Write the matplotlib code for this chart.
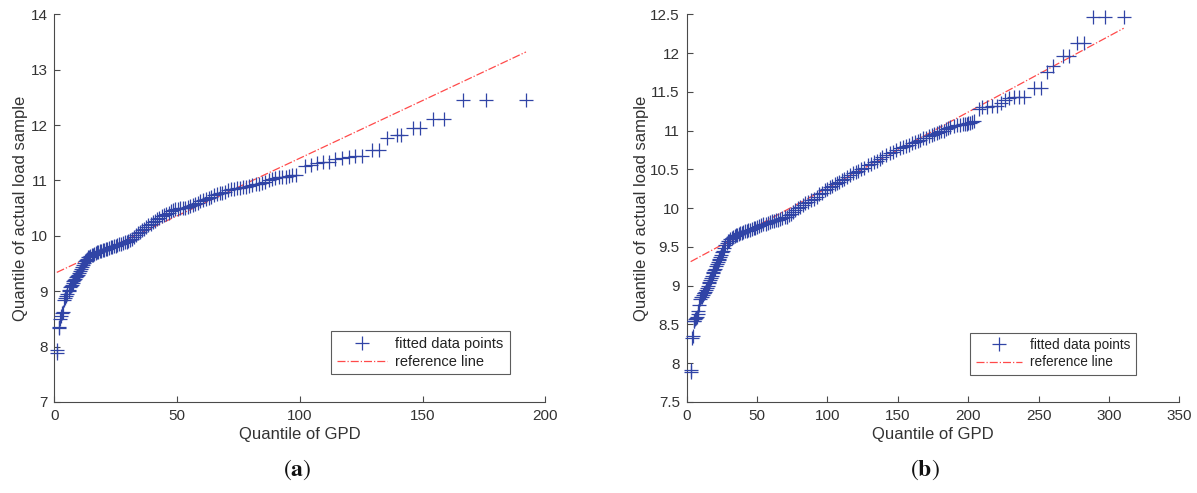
import matplotlib
matplotlib.use("Agg")
import matplotlib.pyplot as plt

# ---------------- data ----------------
# panel (a)
a_gpd_q = [1.0, 1.2, 1.7, 2.0, 2.3, 2.6, 3.0, 3.4, 3.8, 4.3, 4.8, 5.3, 5.8, 6.1, 6.4, 6.8,
           7.1, 7.5, 7.8, 8.2, 8.5, 8.9, 9.3, 9.7, 10.0, 10.4, 10.8, 11.2, 11.6, 12.0, 12.4,
           12.8, 13.2, 13.7, 14.2, 14.7, 15.2, 15.7, 16.2, 16.8, 17.3, 17.9, 18.5, 19.1,
           19.7, 20.3, 21.0, 21.6, 22.3, 23.0, 23.6, 24.3, 25.0, 25.7, 26.5, 27.2, 28.0,
           28.7, 29.5, 30.2, 31.0, 31.8, 32.6, 33.4, 34.2, 35.0, 35.8, 36.6, 37.5, 38.3,
           39.2, 40.1, 41.0, 41.9, 42.8, 43.7, 44.6, 45.5, 46.5, 47.4, 48.4, 49.3, 50.3,
           51.3, 52.3, 53.3, 54.3, 55.3, 56.4, 57.4, 58.5, 59.5, 60.6, 61.7, 62.8, 63.9,
           65.0, 66.1, 67.3, 68.4, 69.6, 70.8, 72.0, 73.2, 74.4, 75.6, 76.9, 78.1, 79.4,
           80.7, 82.0, 83.3, 84.6, 86.0, 87.3, 88.6, 90.0, 91.4, 92.8, 94.2, 95.6, 97.0,
           98.5, 102.0, 104.5, 107.0, 109.5, 112.0, 114.5, 117.0, 120.0, 122.5, 125.2,
           129.3, 132.4, 135.6, 139.5, 141.2, 146.2, 149.0, 154.1, 158.7, 166.3, 175.7, 192.1]
a_sample_q = [7.93, 7.88, 8.33, 8.36, 8.50, 8.55, 8.60, 8.63, 8.85, 8.88, 8.92, 8.95, 9.00,
              9.03, 9.07, 9.10, 9.12, 9.15, 9.18, 9.20, 9.22, 9.25, 9.27, 9.30, 9.32, 9.36,
              9.40, 9.44, 9.47, 9.51, 9.54, 9.57, 9.59, 9.61, 9.62, 9.64, 9.65, 9.66, 9.67,
              9.69, 9.70, 9.71, 9.72, 9.73, 9.74, 9.75, 9.76, 9.77, 9.78, 9.79, 9.80, 9.81,
              9.82, 9.83, 9.85, 9.86, 9.87, 9.88, 9.89, 9.90, 9.92, 9.95, 9.98, 10.02, 10.05,
              10.07, 10.10, 10.13, 10.16, 10.19, 10.22, 10.25, 10.27, 10.30, 10.32, 10.35,
              10.37, 10.40, 10.42, 10.44, 10.46, 10.48, 10.49, 10.50, 10.50, 10.51, 10.52,
              10.54, 10.56, 10.58, 10.60, 10.62, 10.65, 10.67, 10.69, 10.71, 10.73, 10.75,
              10.77, 10.78, 10.80, 10.82, 10.84, 10.85, 10.86, 10.87, 10.88, 10.89, 10.90,
              10.91, 10.93, 10.94, 10.96, 10.98, 11.00, 11.02, 11.04, 11.06, 11.07, 11.07,
              11.08, 11.09, 11.10, 11.26, 11.28, 11.31, 11.33, 11.34, 11.38, 11.41, 11.43,
              11.44, 11.44, 11.55, 11.55, 11.76, 11.82, 11.82, 11.94, 11.94, 12.11, 12.11,
              12.46, 12.46, 12.46]
a_ref_x = [1.0, 192.1]
a_ref_y = [9.34, 13.32]

# panel (b)
b_gpd_q = [2.8, 3.2, 4.0, 4.4, 5.0, 5.5, 6.0, 6.6, 7.2, 7.8, 8.3, 8.9, 9.5, 10.1, 10.7,
           11.3, 12.0, 12.5, 13.0, 13.8, 14.5, 15.0, 15.6, 16.1, 16.6, 17.3, 18.0, 18.5,
           19.0, 19.5, 20.1, 20.8, 21.5, 22.0, 22.6, 23.2, 23.7, 24.3, 25.0, 25.7, 26.5,
           27.4, 28.4, 29.2, 30.0, 31.0, 32.0, 33.0, 34.0, 35.0, 36.0, 37.0, 38.0, 39.0,
           40.0, 41.2, 42.5, 43.7, 45.0, 46.2, 47.5, 48.7, 50.0, 51.5, 53.0, 54.5, 56.0,
           57.5, 59.0, 60.5, 62.0, 63.5, 65.0, 66.5, 68.0, 69.5, 71.0, 72.5, 74.0, 75.5,
           77.0, 78.8, 80.6, 82.3, 84.0, 86.0, 88.0, 90.2, 92.5, 94.2, 96.0, 98.0, 100.0,
           101.7, 103.5, 105.1, 106.7, 108.3, 110.0, 112.0, 114.0, 116.2, 118.5, 120.2,
           122.0, 124.0, 126.0, 128.5, 131.0, 133.0, 135.0, 137.0, 139.0, 141.8, 144.6,
           146.8, 149.0, 151.5, 154.0, 156.0, 158.0, 160.0, 162.0, 164.0, 165.9, 168.0,
           170.0, 172.0, 174.0, 176.0, 177.8, 179.4, 181.0, 182.5, 184.0, 185.7, 187.3,
           189.7, 192.0, 194.0, 196.0, 197.5, 199.0, 200.2, 201.5, 202.7, 203.8, 207.4,
           210.0, 213.4, 217.0, 220.5, 223.0, 226.4, 229.0, 232.3, 236.0, 239.4, 246.5,
           251.8, 256.0, 260.3, 267.4, 271.4, 277.4, 282.1, 288.7, 297.5, 310.5]
b_sample_q = [7.89, 7.91, 8.33, 8.35, 8.54, 8.55, 8.57, 8.58, 8.60, 8.64, 8.67, 8.75, 8.83,
              8.85, 8.86, 8.88, 8.90, 8.91, 8.92, 8.95, 8.97, 9.00, 9.03, 9.05, 9.07, 9.10,
              9.13, 9.16, 9.18, 9.20, 9.22, 9.25, 9.28, 9.31, 9.33, 9.35, 9.37, 9.40, 9.43,
              9.45, 9.48, 9.52, 9.55, 9.57, 9.58, 9.60, 9.61, 9.63, 9.64, 9.65, 9.66, 9.67,
              9.68, 9.685, 9.69, 9.70, 9.71, 9.715, 9.72, 9.73, 9.74, 9.75, 9.76, 9.77, 9.78,
              9.79, 9.80, 9.81, 9.82, 9.83, 9.84, 9.845, 9.85, 9.86, 9.87, 9.88, 9.89, 9.91,
              9.93, 9.95, 9.97, 10.00, 10.02, 10.04, 10.06, 10.08, 10.10, 10.12, 10.15, 10.18,
              10.20, 10.23, 10.25, 10.27, 10.29, 10.31, 10.32, 10.34, 10.36, 10.38, 10.40,
              10.43, 10.45, 10.47, 10.48, 10.50, 10.52, 10.55, 10.57, 10.59, 10.61, 10.64,
              10.66, 10.69, 10.71, 10.73, 10.75, 10.77, 10.79, 10.80, 10.82, 10.84, 10.85,
              10.87, 10.88, 10.90, 10.91, 10.93, 10.94, 10.96, 10.97, 10.98, 10.99, 11.00,
              11.02, 11.04, 11.05, 11.06, 11.07, 11.075, 11.08, 11.085, 11.09, 11.095, 11.10,
              11.11, 11.12, 11.28, 11.30, 11.31, 11.32, 11.32, 11.36, 11.40, 11.42, 11.43,
              11.43, 11.43, 11.55, 11.55, 11.76, 11.83, 11.96, 11.96, 12.13, 12.13, 12.46,
              12.46, 12.46]
b_ref_x = [2.8, 310.5]
b_ref_y = [9.31, 12.32]

a_xticks = [0, 50, 100, 150, 200]
a_yticks = [7, 8, 9, 10, 11, 12, 13, 14]
b_xticks = [0, 50, 100, 150, 200, 250, 300, 350]
b_yticks = [7.5, 8, 8.5, 9, 9.5, 10, 10.5, 11, 11.5, 12, 12.5]
b_yticklabels = ["7.5", "8", "8.5", "9", "9.5", "10", "10.5", "11", "11.5", "12", "12.5"]

legend_labels = ["fitted data points", "reference line"]
xlabel = "Quantile of GPD"
ylabel = "Quantile of actual load sample"

# ---------------- styling ----------------
plt.rcParams['font.family'] = ['Liberation Sans', 'DejaVu Sans']
plt.rcParams['mathtext.fontset'] = 'stix'
AX_COL = '#4a4a4a'
TXT_COL = '#333333'
PT_COL = '#3044a6'
REF_COL = '#ff4a4a'

fig = plt.figure(figsize=(11.97, 4.93), dpi=100)
axa = fig.add_axes([0.0454, 0.1846, 0.4102, 0.7864])
axb = fig.add_axes([0.5737, 0.1846, 0.4115, 0.7864])


def style(ax, xlim, ylim, xticks, yticks, yticklabels=None, ylabelpad=4):
    ax.set_xlim(*xlim)
    ax.set_ylim(*ylim)
    ax.set_xticks(xticks)
    ax.set_yticks(yticks)
    if yticklabels is not None:
        ax.set_yticklabels(yticklabels)
    for s in ['top', 'right']:
        ax.spines[s].set_visible(False)
    for s in ['left', 'bottom']:
        ax.spines[s].set_color(AX_COL)
        ax.spines[s].set_linewidth(0.8)
    ax.tick_params(direction='in', length=4, width=0.8, color=AX_COL,
                   labelcolor=TXT_COL, labelsize=11, pad=5)
    ax.set_xlabel(xlabel, fontsize=12, color=TXT_COL, labelpad=3)
    ax.set_ylabel(ylabel, fontsize=12, color=TXT_COL, labelpad=ylabelpad)


# panel (a)
axa.plot(a_gpd_q, a_sample_q, '+', color=PT_COL, markersize=9.5, mew=0.9,
         label=legend_labels[0], clip_on=False, zorder=3)
axa.plot(a_ref_x, a_ref_y, '-.', color=REF_COL, lw=0.9, label=legend_labels[1])
style(axa, (0, 200), (7, 14), a_xticks, a_yticks, ylabelpad=2)
lga = axa.legend(loc='lower right', bbox_to_anchor=(0.927, 0.071), fontsize=10.5,
                 frameon=True, fancybox=False, handlelength=3.4, borderpad=0.4,
                 labelspacing=0.25, handletextpad=0.6, borderaxespad=0)
lga.get_frame().set_edgecolor('#333333')
lga.get_frame().set_linewidth(0.8)
for t in lga.get_texts():
    t.set_color('#222222')

# panel (b)
axb.plot(b_gpd_q, b_sample_q, '+', color=PT_COL, markersize=9.5, mew=0.9,
         label=legend_labels[0], clip_on=False, zorder=3)
axb.plot(b_ref_x, b_ref_y, '-.', color=REF_COL, lw=0.9, label=legend_labels[1])
style(axb, (0, 350), (7.5, 12.5), b_xticks, b_yticks, b_yticklabels, ylabelpad=1)
lgb = axb.legend(loc='lower right', bbox_to_anchor=(0.912, 0.07), fontsize=9.8,
                 frameon=True, fancybox=False, handlelength=3.4, borderpad=0.4,
                 labelspacing=0.25, handletextpad=0.6, borderaxespad=0)
lgb.get_frame().set_edgecolor('#333333')
lgb.get_frame().set_linewidth(0.8)
for t in lgb.get_texts():
    t.set_color('#222222')

# captions
fig.text(0.248, 0.047, r'$(\mathbf{a})$', ha='center', va='center', fontsize=17, color='#111111')
fig.text(0.773, 0.047, r'$(\mathbf{b})$', ha='center', va='center', fontsize=17, color='#111111')

fig.savefig('out.png', dpi=100)
